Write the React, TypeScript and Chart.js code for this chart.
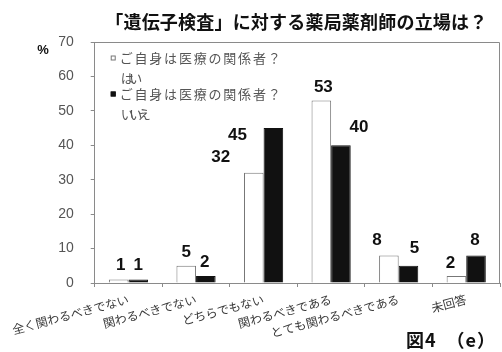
import React, { useEffect, useRef } from "react";
import { Chart, registerables } from "chart.js";

Chart.register(...registerables);

const TITLE = "「遺伝子検査」に対する薬局薬剤師の立場は？";
const FIGURE_CAPTION = "図4　（e）";
const UNIT = "%";
const LEGEND_QUESTION = "ご自身は医療の関係者？";
const SERIES_NAMES = ["はい", "いいえ"];

const categories = [
  "全く関わるべきでない",
  "関わるべきでない",
  "どちらでもない",
  "関わるべきである",
  "とても関わるべきである",
  "未回答",
];
const yesValues = [1, 5, 32, 53, 8, 2];
const noValues = [1, 2, 45, 40, 5, 8];
const yTicks = [0, 10, 20, 30, 40, 50, 60, 70];

// Per-label nudges (px) for the value labels, relative to a label centred 10px above its bar.
const yesLabelNudge: [number, number][] = [[2, 0], [0, 1], [-33, -1], [2, 1], [-12, 0], [-6, 2]];
const noLabelNudge: [number, number][] = [[0, 0], [-1, 1], [-36, 22], [18, -3], [6, -3], [-1, 0]];

const JP = '"Noto Sans CJK JP", "Noto Sans", sans-serif';
const LAT = '"Liberation Sans", Arial, sans-serif';

const overlayPlugin = {
  id: "overlay",
  afterDraw(chart: any) {
    const { ctx, chartArea: a } = chart;
    ctx.save();

    // top and right sides of the plot frame
    ctx.strokeStyle = "#8a8a8a";
    ctx.lineWidth = 1;
    ctx.beginPath();
    ctx.moveTo(a.left, a.top + 0.5);
    ctx.lineTo(a.right - 0.5, a.top + 0.5);
    ctx.lineTo(a.right - 0.5, a.bottom);
    ctx.stroke();

    // title
    ctx.fillStyle = "#111";
    ctx.font = `bold 18px ${JP}`;
    ctx.textAlign = "center";
    ctx.textBaseline = "middle";
    (ctx as any).letterSpacing = "0.2px";
    ctx.fillText(TITLE, (a.left + a.right) / 2 - 1, 22);
    (ctx as any).letterSpacing = "0px";

    // unit mark
    ctx.font = `bold 13px ${LAT}`;
    ctx.fillText(UNIT, 43, 50);

    // legend inside the plot area
    const lx = a.left + 16;
    const rows = [a.top + 16, a.top + 52];
    rows.forEach((ry, i) => {
      ctx.fillStyle = i === 0 ? "#fff" : "#111";
      ctx.strokeStyle = i === 0 ? "#777" : "#111";
      ctx.fillRect(lx, ry - 2.5, 5, 5);
      ctx.strokeRect(lx + 0.5, ry - 2, 4, 4);
      ctx.fillStyle = "#555";
      ctx.textAlign = "left";
      ctx.textBaseline = "middle";
      ctx.font = `13px ${JP}`;
      (ctx as any).letterSpacing = "1.8px";
      ctx.fillText(LEGEND_QUESTION, lx + 9, ry);
      ctx.font = `13px ${JP}`;
      (ctx as any).letterSpacing = "-4.5px";
      ctx.fillText(SERIES_NAMES[i], lx + 10, ry + 20);
      (ctx as any).letterSpacing = "0px";
    });

    // value labels above the bars
    const nudges = [yesLabelNudge, noLabelNudge];
    ctx.fillStyle = "#111";
    ctx.font = `bold 17px ${LAT}`;
    ctx.textAlign = "center";
    ctx.textBaseline = "alphabetic";
    chart.data.datasets.forEach((ds: any, di: number) => {
      const meta = chart.getDatasetMeta(di);
      meta.data.forEach((bar: any, i: number) => {
        const [dx, dy] = nudges[di][i];
        ctx.fillText(String(ds.data[i]), bar.x + dx, bar.y - 10 + dy);
      });
    });

    // figure caption
    ctx.font = `bold 18px ${JP}`;
    ctx.textAlign = "left";
    ctx.textBaseline = "middle";
    (ctx as any).letterSpacing = "1px";
    ctx.fillText(FIGURE_CAPTION, 406, 340);
    (ctx as any).letterSpacing = "0px";

    ctx.restore();
  },
};

export default function App() {
  const canvasRef = useRef<HTMLCanvasElement | null>(null);

  useEffect(() => {
    document.body.style.margin = "0";
    const canvas = canvasRef.current;
    if (!canvas) return;
    const chart = new Chart(canvas, {
      type: "bar",
      data: {
        labels: categories,
        datasets: [
          {
            label: `${LEGEND_QUESTION}${SERIES_NAMES[0]}`,
            data: yesValues,
            backgroundColor: "#ffffff",
            borderColor: "#777777",
            borderWidth: 1,
          },
          {
            label: `${LEGEND_QUESTION}${SERIES_NAMES[1]}`,
            data: noValues,
            backgroundColor: "#111111",
            borderColor: "#111111",
            borderWidth: 1,
          },
        ],
      },
      options: {
        responsive: false,
        animation: false,
        devicePixelRatio: 1,
        layout: { padding: { top: 42, right: 2, left: 0, bottom: 0 } },
        datasets: { bar: { categoryPercentage: 0.58, barPercentage: 1 } },
        plugins: {
          legend: { display: false },
          title: { display: false },
          tooltip: { enabled: false },
        },
        scales: {
          x: {
            grid: { drawOnChartArea: false, drawTicks: true, tickLength: 4, color: "#8a8a8a", offset: true },
            border: { color: "#8a8a8a", width: 1 },
            ticks: {
              autoSkip: false,
              minRotation: 15,
              maxRotation: 15,
              padding: 5,
              color: "#3a3a3a",
              font: { family: JP, size: 12 },
            },
            afterFit: (scale: any) => {
              scale.height = 69;
            },
          },
          y: {
            min: 0,
            max: 70,
            afterBuildTicks: (scale: any) => {
              scale.ticks = yTicks.map((v) => ({ value: v }));
            },
            grid: { drawOnChartArea: false, drawTicks: true, tickLength: 4, color: "#8a8a8a" },
            border: { color: "#8a8a8a", width: 1 },
            ticks: {
              padding: 17,
              color: "#555",
              font: { family: LAT, size: 14 },
            },
            afterFit: (scale: any) => {
              scale.width = 91;
            },
          },
        },
      },
      plugins: [overlayPlugin],
    });
    return () => chart.destroy();
  }, []);

  return (
    <div style={{ width: 502, height: 352, background: "#fff" }}>
      <canvas ref={canvasRef} width={502} height={352} style={{ display: "block" }} />
    </div>
  );
}
